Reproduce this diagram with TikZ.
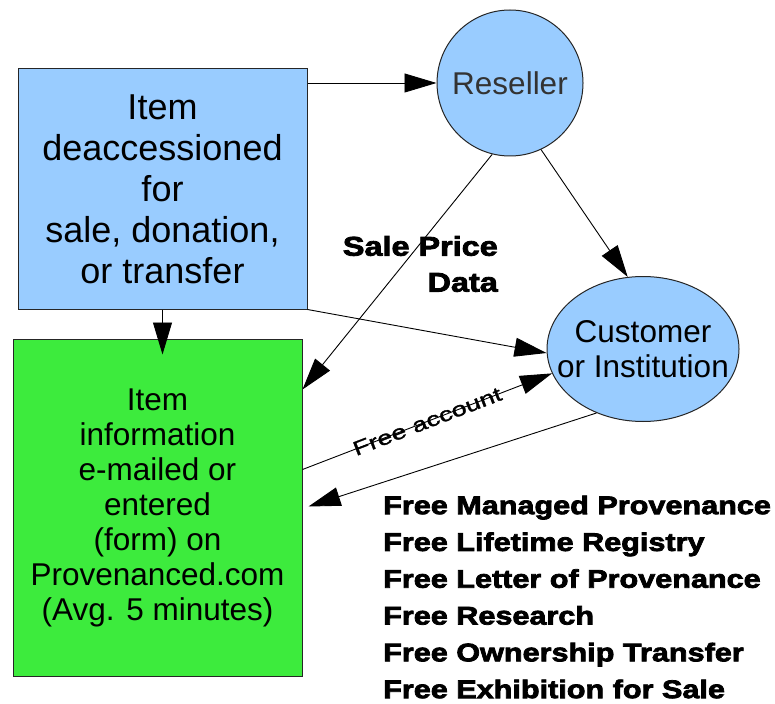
\documentclass[tikz,border=0pt]{standalone}
\usepackage{fontspec}
\setmainfont{Liberation Sans}
\newfontfamily\heavyfont[FakeBold=3,FakeStretch=1.2]{Liberation Sans Bold}
\newfontfamily\acctfont[FakeBold=1.5,FakeStretch=1.35]{Liberation Sans}
\usetikzlibrary{arrows.meta,shapes.geometric}
\definecolor{boxblue}{RGB}{153,204,255}
\definecolor{boxgreen}{RGB}{61,235,61}
\tikzset{
  shapeline/.style={draw=black!85, line width=1pt},
  bluebox/.style={shapeline, rectangle, fill=boxblue, minimum width=289pt, minimum height=240pt, inner sep=0pt, align=center, font=\fontsize{36}{41}\selectfont},
  greenbox/.style={shapeline, rectangle, fill=boxgreen, minimum width=289pt, minimum height=337pt, inner sep=0pt, align=center, font=\fontsize{31.5}{35}\selectfont},
  rescirc/.style={shapeline, circle, fill=boxblue, minimum size=146pt, inner sep=0pt, font=\fontsize{31.5}{35}\selectfont, text=black!80},
  custell/.style={shapeline, ellipse, fill=boxblue, minimum width=192pt, minimum height=145pt, inner xsep=-35pt, inner ysep=0pt, align=center, font=\fontsize{31.5}{35}\selectfont},
  arr/.style={draw=black, line width=0.9pt, -{Triangle[length=32pt,width=19pt]}},
  heavytext/.style={inner sep=0pt, text=black},
}
\begin{document}
\begin{tikzpicture}[x=1pt,y=-1pt]
\useasboundingbox (0,0) rectangle (775,703);
\node[bluebox] (blue) at (162.5,189) {Item\\deaccessioned\\for\\sale, donation,\\or transfer};
\node[greenbox] (green) at (157.5,507.5) {Item\\information\\e-mailed or\\entered\\(form) on\\Provenanced.com\\(Avg. 5 minutes)};
\node[rescirc] (res) at (510,83) {Reseller};
\node[custell] (cust) at (643,349) {Customer\\or Institution};

\draw[arr] (blue.north east |- res.west) -- (res.west);
\draw[arr, shorten >=-16pt] (blue.south) -- (blue.south |- green.north);
\draw[arr] (blue.south east) -- ([yshift=-4pt]cust.west);
\draw[arr] (res.256) -- ([yshift=-51pt]green.north east);
\draw[arr] (res.295) -- (cust.102);
\draw[arr] ([yshift=-131pt]green.north east) -- node[sloped, inner sep=0pt, font=\acctfont\fontsize{20}{22}\selectfont] (acct) {Free account} (cust.195);
\draw[arr] (cust.234) -- ([yshift=-168pt,xshift=6pt]green.north east);

\node[heavytext, anchor=east, align=right, font=\heavyfont\fontsize{27}{36}\selectfont] (sale) at (498,264) {Sale Price\\Data};
\node[heavytext, anchor=west, align=left, font=\heavyfont\fontsize{25.5}{36.8}\selectfont] (list) at (383,597) {Free Managed Provenance\\Free Lifetime Registry\\Free Letter of Provenance\\Free Research\\Free Ownership Transfer\\Free Exhibition for Sale};
\end{tikzpicture}
\end{document}
